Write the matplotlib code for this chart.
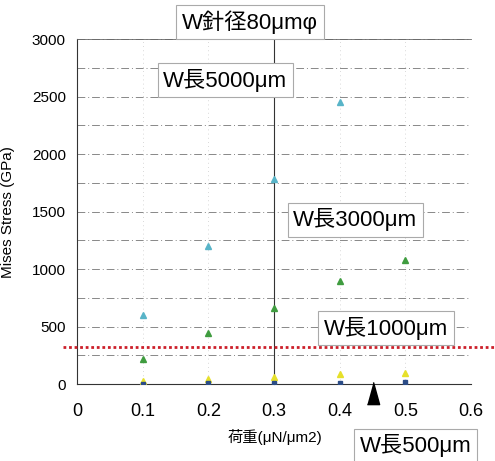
import matplotlib.pyplot as plt

plt.rcParams['font.family'] = ['Liberation Sans', 'Noto Sans CJK JP', 'DejaVu Sans']

# load (uN/um2) and Mises stress (GPa) for each needle length
load = [0.1, 0.2, 0.3, 0.4, 0.5]
stress_5000 = [600, 1200, 1780, 2450]
stress_3000 = [220, 445, 665, 900, 1080]
stress_1000 = [22, 42, 62, 85, 100]
stress_500 = [3, 6, 9, 12, 15]
limit_stress = 325
marker_x = 0.45

x_ticks = [0, 0.1, 0.2, 0.3, 0.4, 0.5, 0.6]
y_ticks = [0, 500, 1000, 1500, 2000, 2500, 3000]

fig = plt.figure(figsize=(4.95, 4.61), dpi=100)
ax = fig.add_axes([0.1556, 0.167, 0.796, 0.748])

ax.set_xlim(0, 0.6)
ax.set_ylim(0, 3000)

# grid
for yv in range(250, 3001, 250):
    ax.axhline(yv, color='#888888', lw=0.7, ls=(0, (8, 3, 1, 3)), zorder=0)
for xv in x_ticks[1:]:
    ax.axvline(xv, color='#cccccc', lw=0.6, ls=(0, (1, 4)), zorder=0)

# callout line
ax.plot([0.3, 0.3], [0, 3080], color='#333333', lw=0.8, clip_on=False, zorder=1)

ax.plot(load[:4], stress_5000, '^', color='#58b4c8', ms=4.5, zorder=3)
ax.plot(load, stress_3000, '^', color='#3f9c3f', ms=4.5, zorder=3)
ax.plot(load, stress_1000, '^', color='#e6e02a', ms=4.5, zorder=3)
ax.plot(load, stress_500, 's', color='#2b4c86', ms=3, zorder=3)

# red limit line across the whole figure
ax.plot([-0.022, 0.7], [limit_stress, limit_stress], color='#cc1f2a', lw=2,
        ls=(0, (1, 1)), clip_on=False, zorder=4)

# black marker under the axis
tri = [(-0.55, -1), (0.55, -1), (0, 1)]
ax.plot([marker_x], [-75], marker=tri, color='black', ms=16, ls='none',
        clip_on=False, zorder=5)

ax.set_xticks(x_ticks)
ax.set_xticklabels(['0', '0.1', '0.2', '0.3', '0.4', '0.5', '0.6'], fontsize=13)
ax.set_yticks(y_ticks)
ax.set_yticklabels([str(v) for v in y_ticks], fontsize=11)
ax.tick_params(length=0, pad=8)
ax.tick_params(axis='x', pad=14)

for s in ['left', 'bottom']:
    ax.spines[s].set_color('#333333')
ax.spines['top'].set_color('#666666')
ax.spines['top'].set_linewidth(0.6)
ax.spines['right'].set_visible(False)

ax.set_ylabel('Mises Stress (GPa)', fontsize=11, labelpad=12)
fig.text(0.555, 0.052, '荷重(μN/μm2)', fontsize=11, ha='center', va='center')

box = dict(boxstyle='square,pad=0.25', fc='white', ec='#aaaaaa', lw=0.8)
fig.text(0.505, 0.952, 'W針径80μmφ', fontsize=16, ha='center', va='center', bbox=box, zorder=6)
fig.text(0.455, 0.826, 'W長5000μm', fontsize=16, ha='center', va='center', bbox=box, zorder=6)
fig.text(0.718, 0.523, 'W長3000μm', fontsize=16, ha='center', va='center', bbox=box, zorder=6)
fig.text(0.78, 0.288, 'W長1000μm', fontsize=16, ha='center', va='center', bbox=box, zorder=6)
fig.text(0.84, 0.033, 'W長500μm', fontsize=16, ha='center', va='center', bbox=box, zorder=6)

fig.savefig('out.png', dpi=100)
